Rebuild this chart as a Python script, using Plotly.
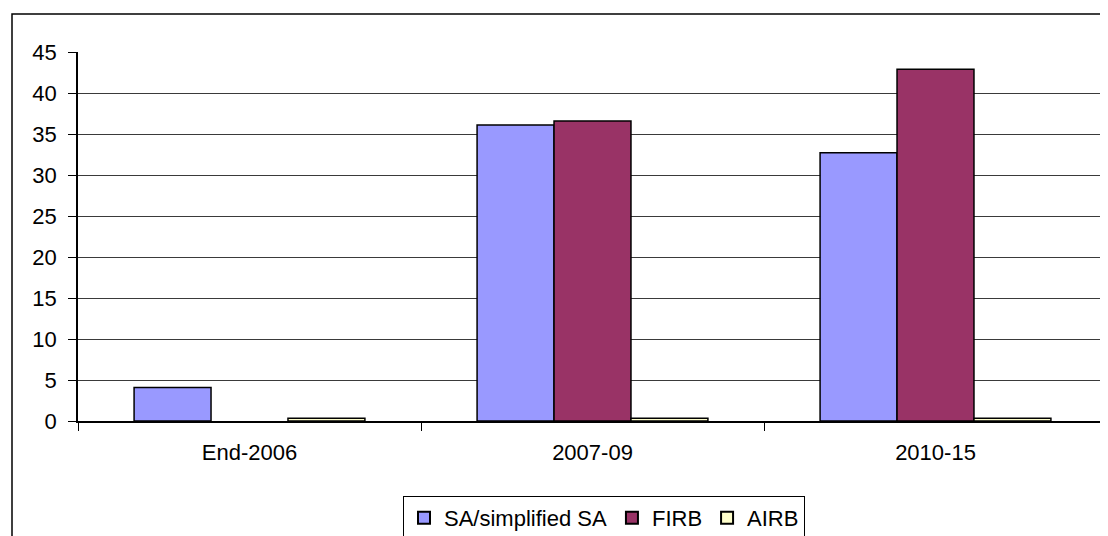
import plotly.graph_objects as go

categories = ["End-2006", "2007-09", "2010-15"]
sa_values = [4.1, 36.1, 32.7]
firb_values = [None, 36.6, 42.9]
airb_values = [0.35, 0.35, 0.35]
y_ticks = [0, 5, 10, 15, 20, 25, 30, 35, 40, 45]

# page body has an 8px margin; work in screen pixels and subtract it
OFF = 8
W, H = 1108 - OFF, 536 - OFF
L = 78 - OFF
T = 52 - OFF
R = W - (1107 - OFF)
B = H - (421 - OFF)
pw = W - L - R
ph = H - T - B

def px_x(x):  # screen x -> paper
    return (x - OFF - L) / pw

def px_y(y):  # screen y -> paper
    return (H - B - (y - OFF)) / ph

FONT = "Arial, Liberation Sans, sans-serif"

fig = go.Figure()
fig.add_trace(go.Bar(name="SA/simplified SA", x=categories, y=sa_values,
                     marker=dict(color="#9999FF", line=dict(color="#000000", width=1.5))))
fig.add_trace(go.Bar(name="FIRB", x=categories, y=firb_values,
                     marker=dict(color="#993366", line=dict(color="#000000", width=1.5))))
fig.add_trace(go.Bar(name="AIRB", x=categories, y=airb_values,
                     marker=dict(color="#FFFFCC", line=dict(color="#000000", width=1.5))))

fig.update_layout(
    width=W, height=H,
    margin=dict(l=L, r=R, t=T, b=B, pad=0, autoexpand=False),
    paper_bgcolor="white", plot_bgcolor="white",
    barmode="group", bargap=0.327, bargroupgap=0,
    font=dict(family=FONT, size=22, color="#000000"),
    showlegend=True,
    legend=dict(orientation="h", xref="container", yref="container",
                x=(403 - OFF) / W, xanchor="left",
                y=1 - (496 - OFF) / H, yanchor="top",
                font=dict(family=FONT, size=22, color="#000000"),
                bordercolor="#000000", borderwidth=1, bgcolor="white",
                itemsizing="constant"),
    xaxis=dict(type="category", showgrid=False, showline=True, linecolor="#000000",
               linewidth=1.5, ticks="outside", ticklen=8, tickcolor="#000000",
               tickson="boundaries", ticklabelstandoff=11,
               tickfont=dict(family=FONT, size=22, color="#000000")),
    yaxis=dict(range=[0, 45], tickvals=y_ticks, showgrid=True, gridcolor="#3a3a3a",
               gridwidth=1, showline=True, linecolor="#000000", linewidth=1.5,
               ticks="outside", ticklen=8, tickcolor="#000000", zeroline=False,
               ticklabelstandoff=7,
               tickfont=dict(family=FONT, size=22, color="#000000")),
    shapes=[
        dict(type="rect", xref="paper", yref="paper",
             x0=px_x(12), x1=px_x(1130), y0=px_y(580), y1=px_y(14),
             line=dict(color="#000000", width=1.5), fillcolor="rgba(0,0,0,0)", layer="above"),
        dict(type="line", xref="paper", yref="paper", x0=1, x1=1, y0=0, y1=1,
             line=dict(color="#999999", width=1)),
    ],
)

fig.write_html("out.html")
